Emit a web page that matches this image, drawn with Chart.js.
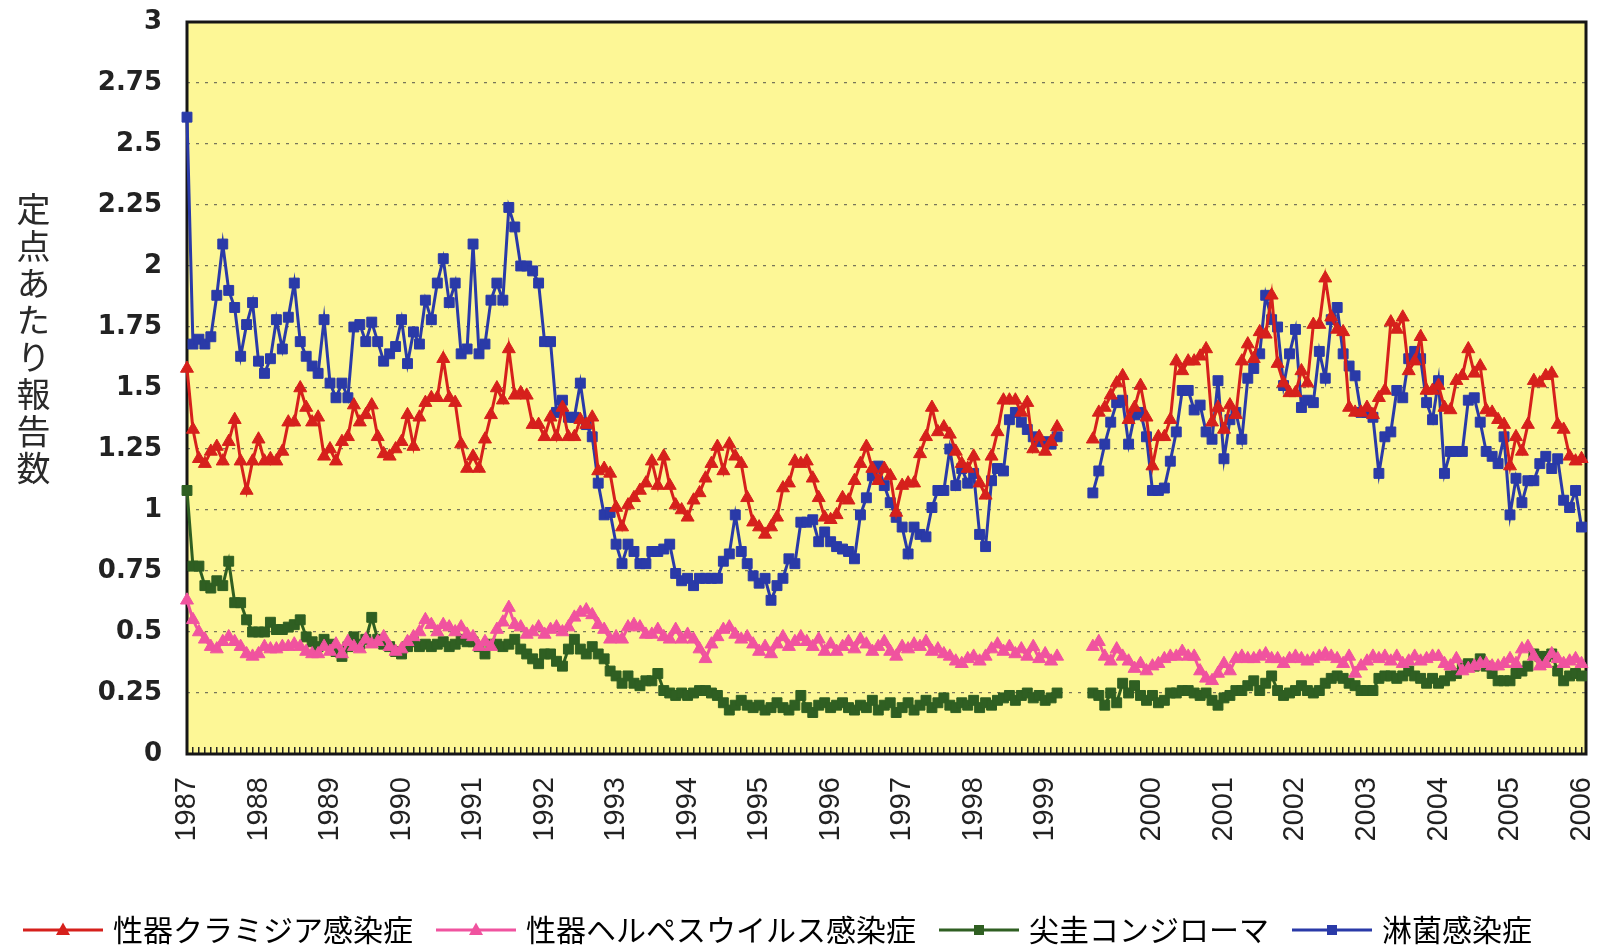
<!DOCTYPE html>
<html lang="ja">
<head>
<meta charset="utf-8">
<script src="https://cdn.jsdelivr.net/npm/chart.js"></script>
<style>
html,body{margin:0;padding:0;background:#fff;overflow:hidden}
#wrap{position:relative;width:1603px;height:947px}
#ytitle{position:absolute;left:16px;top:192px;writing-mode:vertical-rl;font-family:"Noto Sans CJK JP";font-size:34px;line-height:34px;letter-spacing:3px;color:#2a2a2a}
</style>
</head>
<body>
<div id="wrap"><canvas id="c" width="1603" height="947"></canvas><div id="ytitle">定点あたり報告数</div></div>
<script>
// ---- data (monthly values, 1987-01 .. 1999-03 and 1999-09 .. 2006) ----
const seriesNames = ['性器クラミジア感染症', '性器ヘルペスウイルス感染症', '尖圭コンジローマ', '淋菌感染症'];
const yearLabels = ['1987','1988','1989','1990','1991','1992','1993','1994','1995','1996','1997','1998','1999','2000','2001','2002','2003','2004','2005','2006'];
const yearTickMonths = [0,12,24,36,48,60,72,84,96,108,120,132,144,162,174,186,198,210,222,234];
const yTickLabels = ['0','0.25','0.5','0.75','1','1.25','1.5','1.75','2','2.25','2.5','2.75','3'];
const firstSegmentStartMonth = 0;
const secondSegmentStartMonth = 152;

const chlamydiaA = [
1.58,1.33,1.21,1.19,1.24,1.26,1.20,1.28,1.37,1.20,1.08,1.20,
1.29,1.20,1.21,1.20,1.24,1.36,1.36,1.50,1.42,1.36,1.38,1.22,
1.25,1.20,1.28,1.30,1.43,1.36,1.39,1.43,1.30,1.23,1.22,1.25,
1.28,1.39,1.26,1.38,1.44,1.46,1.46,1.62,1.46,1.44,1.27,1.17,
1.22,1.17,1.29,1.39,1.50,1.45,1.66,1.47,1.48,1.47,1.35,1.35,
1.30,1.38,1.30,1.42,1.30,1.30,1.37,1.35,1.38,1.16,1.17,1.15,
1.01,0.93,1.02,1.05,1.08,1.11,1.20,1.10,1.22,1.10,1.02,1.00,
0.97,1.04,1.07,1.13,1.19,1.26,1.16,1.27,1.22,1.19,1.05,0.95,
0.93,0.90,0.93,0.97,1.09,1.11,1.20,1.19,1.20,1.13,1.05,0.97,
0.96,0.98,1.05,1.04,1.12,1.19,1.26,1.17,1.12,1.17,1.14,0.99,
1.10,1.11,1.11,1.23,1.30,1.42,1.32,1.34,1.31,1.24,1.19,1.17,
1.22,1.11,1.06,1.22,1.32,1.45,1.45,1.45,1.40,1.44,1.25,1.30,
1.24,1.28,1.34];
const chlamydiaB = [
1.29,1.40,1.42,1.47,1.52,1.55,1.37,1.42,1.51,1.38,
1.18,1.30,1.30,1.37,1.61,1.57,1.61,1.61,1.63,1.66,1.36,1.42,
1.33,1.43,1.39,1.61,1.68,1.62,1.73,1.72,1.88,1.60,1.52,1.48,
1.48,1.57,1.52,1.76,1.76,1.95,1.79,1.74,1.73,1.42,1.40,1.40,
1.42,1.39,1.46,1.49,1.77,1.74,1.79,1.57,1.61,1.71,1.49,1.49,
1.51,1.42,1.41,1.53,1.55,1.66,1.56,1.59,1.41,1.40,1.37,1.35,
1.18,1.30,1.24,1.35,1.53,1.52,1.55,1.56,1.35,1.33,1.22,1.20,1.21];

const herpesA = [
0.63,0.55,0.50,0.47,0.44,0.43,0.46,0.48,0.46,0.44,0.41,0.40,
0.41,0.44,0.43,0.43,0.44,0.44,0.45,0.44,0.42,0.41,0.41,0.44,
0.42,0.45,0.41,0.46,0.44,0.43,0.47,0.45,0.46,0.48,0.44,0.42,
0.43,0.46,0.48,0.50,0.55,0.53,0.50,0.53,0.52,0.50,0.52,0.49,
0.48,0.44,0.46,0.44,0.51,0.54,0.60,0.53,0.52,0.49,0.50,0.52,
0.49,0.51,0.52,0.50,0.52,0.56,0.58,0.59,0.57,0.53,0.51,0.47,
0.48,0.47,0.52,0.53,0.52,0.49,0.49,0.51,0.48,0.47,0.51,0.47,
0.49,0.47,0.43,0.39,0.45,0.48,0.51,0.52,0.49,0.47,0.48,0.45,
0.42,0.44,0.41,0.45,0.48,0.44,0.46,0.48,0.46,0.44,0.47,0.42,
0.45,0.42,0.44,0.46,0.43,0.47,0.45,0.42,0.44,0.46,0.42,0.40,
0.44,0.43,0.45,0.44,0.46,0.42,0.43,0.41,0.40,0.38,0.37,0.39,
0.40,0.38,0.40,0.43,0.45,0.42,0.44,0.41,0.43,0.40,0.44,0.39,
0.41,0.38,0.40];
const herpesB = [
0.44,0.46,0.40,0.38,0.43,0.40,0.38,0.35,0.37,0.34,
0.36,0.37,0.39,0.40,0.40,0.42,0.40,0.40,0.34,0.31,0.30,0.33,
0.37,0.34,0.39,0.40,0.39,0.39,0.40,0.41,0.39,0.39,0.37,0.39,
0.40,0.39,0.38,0.39,0.40,0.41,0.40,0.39,0.37,0.40,0.33,0.36,
0.38,0.40,0.39,0.40,0.38,0.40,0.37,0.38,0.40,0.38,0.39,0.40,
0.40,0.37,0.36,0.39,0.34,0.35,0.36,0.37,0.37,0.36,0.36,0.37,
0.39,0.37,0.43,0.44,0.40,0.36,0.37,0.41,0.39,0.37,0.38,0.39,0.37];

const condylomaA = [
1.08,0.77,0.77,0.69,0.68,0.71,0.69,0.79,0.62,0.62,0.55,0.50,
0.50,0.50,0.54,0.51,0.51,0.52,0.53,0.55,0.48,0.46,0.44,0.47,
0.45,0.42,0.40,0.44,0.48,0.45,0.47,0.56,0.47,0.45,0.44,0.42,
0.41,0.44,0.46,0.44,0.45,0.44,0.45,0.46,0.44,0.45,0.47,0.46,
0.46,0.44,0.41,0.45,0.45,0.44,0.45,0.47,0.43,0.41,0.39,0.37,
0.41,0.41,0.38,0.36,0.43,0.47,0.43,0.41,0.44,0.41,0.39,0.34,
0.32,0.29,0.32,0.29,0.28,0.30,0.30,0.33,0.26,0.25,0.24,0.25,
0.24,0.25,0.26,0.26,0.25,0.24,0.21,0.18,0.20,0.22,0.20,0.19,
0.20,0.18,0.19,0.21,0.19,0.18,0.20,0.24,0.19,0.17,0.20,0.21,
0.19,0.20,0.21,0.19,0.18,0.20,0.19,0.22,0.18,0.20,0.21,0.17,
0.19,0.21,0.18,0.20,0.22,0.19,0.21,0.23,0.20,0.19,0.21,0.20,
0.22,0.19,0.21,0.20,0.22,0.23,0.24,0.22,0.24,0.25,0.23,0.24,
0.22,0.23,0.25];
const condylomaB = [
0.25,0.24,0.20,0.25,0.21,0.29,0.25,0.28,0.24,0.22,
0.24,0.21,0.22,0.25,0.25,0.26,0.26,0.25,0.24,0.25,0.22,0.20,
0.23,0.24,0.26,0.26,0.28,0.30,0.26,0.29,0.32,0.26,0.24,0.25,
0.26,0.28,0.26,0.25,0.26,0.29,0.31,0.32,0.31,0.29,0.28,0.26,
0.26,0.26,0.31,0.32,0.32,0.31,0.32,0.34,0.32,0.31,0.29,0.31,
0.29,0.30,0.32,0.33,0.36,0.37,0.36,0.39,0.36,0.33,0.30,0.30,
0.30,0.33,0.34,0.36,0.41,0.40,0.40,0.41,0.34,0.30,0.32,0.33,0.32];

const gonorrheaA = [
2.61,1.68,1.70,1.68,1.71,1.88,2.09,1.90,1.83,1.63,1.76,1.85,
1.61,1.56,1.62,1.78,1.66,1.79,1.93,1.69,1.63,1.59,1.56,1.78,
1.52,1.46,1.52,1.46,1.75,1.76,1.69,1.77,1.69,1.61,1.64,1.67,
1.78,1.60,1.73,1.68,1.86,1.78,1.93,2.03,1.85,1.93,1.64,1.66,
2.09,1.64,1.68,1.86,1.93,1.86,2.24,2.16,2.00,2.00,1.98,1.93,
1.69,1.69,1.40,1.45,1.38,1.38,1.52,1.35,1.30,1.11,0.98,0.99,
0.86,0.78,0.86,0.83,0.78,0.78,0.83,0.83,0.84,0.86,0.74,0.71,
0.72,0.69,0.72,0.72,0.72,0.72,0.79,0.82,0.98,0.83,0.78,0.73,
0.70,0.72,0.63,0.69,0.72,0.80,0.78,0.95,0.95,0.96,0.87,0.91,
0.87,0.85,0.84,0.83,0.80,0.98,1.05,1.14,1.18,1.10,1.03,0.97,
0.93,0.82,0.93,0.90,0.89,1.01,1.08,1.08,1.25,1.10,1.17,1.11,
1.15,0.90,0.85,1.12,1.17,1.16,1.37,1.40,1.36,1.33,1.30,1.28,
1.28,1.27,1.30];
const gonorrheaB = [
1.07,1.16,1.27,1.36,1.44,1.45,1.27,1.39,1.40,1.30,
1.08,1.08,1.09,1.20,1.32,1.49,1.49,1.41,1.43,1.32,1.29,1.53,
1.21,1.37,1.40,1.29,1.54,1.58,1.64,1.88,1.78,1.75,1.51,1.64,
1.74,1.42,1.45,1.44,1.65,1.54,1.78,1.83,1.64,1.59,1.55,1.40,
1.40,1.38,1.15,1.30,1.32,1.49,1.46,1.62,1.65,1.62,1.44,1.37,
1.53,1.15,1.24,1.24,1.24,1.45,1.46,1.36,1.24,1.22,1.19,1.30,
0.98,1.13,1.03,1.12,1.12,1.19,1.22,1.17,1.21,1.04,1.01,1.08,0.93];

// ---- helpers ----
function buildPoints(a, b) {
  const pts = a.map((v, i) => ({x: firstSegmentStartMonth + i, y: v}));
  pts.push({x: firstSegmentStartMonth + a.length, y: null});
  b.forEach((v, i) => pts.push({x: secondSegmentStartMonth + i, y: v}));
  return pts;
}
const lastMonth = secondSegmentStartMonth + gonorrheaB.length - 1;

const colors = ['#d6201c', '#f0539f', '#2f5f22', '#2a3aa8'];
const shapes = ['triangle', 'triangle', 'rect', 'rect'];

function makeIcon(color, shape) {
  const c = document.createElement('canvas');
  c.width = 80; c.height = 20;
  const g = c.getContext('2d');
  g.strokeStyle = color; g.lineWidth = 3;
  g.beginPath(); g.moveTo(0, 10); g.lineTo(80, 10); g.stroke();
  g.fillStyle = color;
  if (shape === 'triangle') {
    g.beginPath(); g.moveTo(40, 2.5); g.lineTo(47, 15); g.lineTo(33, 15); g.closePath(); g.fill();
  } else {
    g.fillRect(35, 5, 10, 10);
  }
  return c;
}
const icons = colors.map((c, i) => makeIcon(c, shapes[i]));

const seriesData = [
  buildPoints(chlamydiaA, chlamydiaB),
  buildPoints(herpesA, herpesB),
  buildPoints(condylomaA, condylomaB),
  buildPoints(gonorrheaA, gonorrheaB)
];

const datasets = seriesNames.map((name, i) => ({
  label: name,
  data: seriesData[i],
  borderColor: colors[i],
  backgroundColor: colors[i],
  pointBackgroundColor: colors[i],
  pointBorderColor: colors[i],
  pointBorderWidth: 1,
  pointStyle: shapes[i],
  pointRadius: shapes[i] === 'triangle' ? 7.5 : 7,
  borderWidth: 3,
  tension: 0,
  spanGaps: false,
  clip: false
}));

const framePlugin = {
  id: 'frame',
  beforeDraw(chart) {
    const {ctx, chartArea: a} = chart;
    ctx.save();
    ctx.fillStyle = '#fdf796';
    ctx.fillRect(a.left, a.top, a.right - a.left, a.bottom - a.top);
    ctx.restore();
  },
  beforeDatasetsDraw(chart) {
    const {ctx, chartArea: a} = chart;
    ctx.save();
    ctx.strokeStyle = '#161616';
    ctx.lineWidth = 3;
    ctx.strokeRect(a.left, a.top, a.right - a.left, a.bottom - a.top);
    ctx.restore();
  }
};

new Chart(document.getElementById('c'), {
  type: 'line',
  data: {datasets},
  plugins: [framePlugin],
  options: {
    responsive: false,
    animation: false,
    devicePixelRatio: 1,
    layout: {padding: {left: 0, right: 17, top: 22, bottom: -8}},
    scales: {
      x: {
        type: 'linear',
        min: 0,
        max: lastMonth + 0.75,
        afterBuildTicks: s => {
          s.ticks = Array.from({length: lastMonth + 1}, (_, i) => ({value: i}));
        },
        afterFit: s => { s.height = 133; s.paddingLeft = 0; s.paddingRight = 0; },
        ticks: {
          autoSkip: false,
          maxRotation: 90,
          minRotation: 90,
          padding: 30,
          color: '#222',
          font: {family: 'Liberation Sans', size: 29},
          callback: v => {
            const k = yearTickMonths.indexOf(v);
            return k >= 0 ? yearLabels[k] : '';
          }
        },
        grid: {drawOnChartArea: false, drawTicks: true, tickLength: -7, color: '#222', lineWidth: 1.5},
        border: {display: false}
      },
      y: {
        min: 0,
        max: 3,
        afterFit: s => { s.width = 187; s.paddingTop = 0; s.paddingBottom = 0; },
        ticks: {
          stepSize: 0.25,
          padding: 25,
          color: '#222',
          font: {family: 'DejaVu Sans', size: 26, weight: 'bold'},
          callback: (v, i) => yTickLabels[i]
        },
        grid: {color: 'rgba(95,95,80,0.85)', lineWidth: 1.2, drawTicks: false},
        border: {display: false, dash: [3, 6]}
      }
    },
    plugins: {
      legend: {
        position: 'bottom',
        align: 'start',
        labels: {
          usePointStyle: true,
          pointStyleWidth: 70,
          padding: 28,
          color: '#222',
          font: {family: 'Noto Sans CJK JP', size: 30},
          generateLabels: chart => chart.data.datasets.map((ds, i) => ({
            text: ds.label,
            pointStyle: icons[i],
            fillStyle: colors[i],
            strokeStyle: colors[i],
            lineWidth: 0,
            hidden: false,
            datasetIndex: i
          }))
        }
      },
      tooltip: {enabled: false}
    }
  }
});
</script>
</body>
</html>
